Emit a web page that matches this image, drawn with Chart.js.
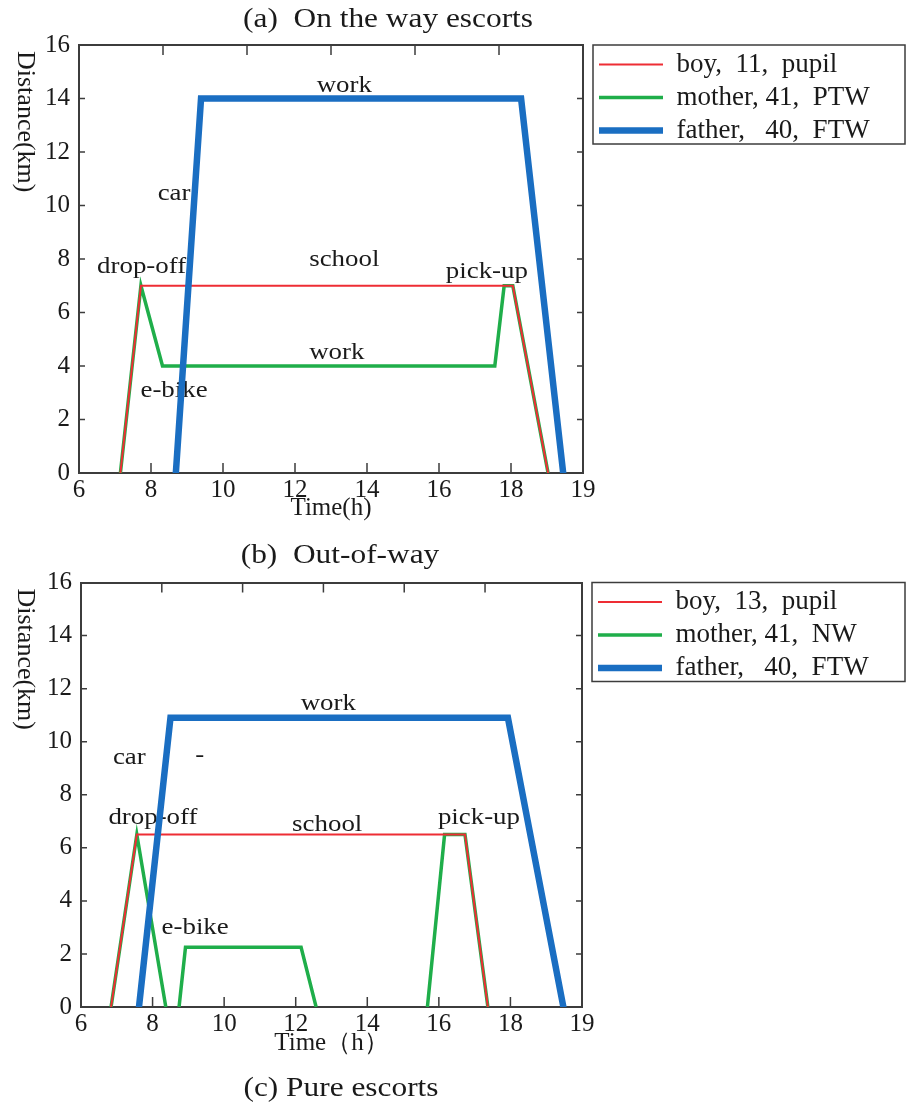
<!DOCTYPE html>
<html>
<head>
<meta charset="utf-8">
<script src="https://cdn.jsdelivr.net/npm/chart.js@4.4.1/dist/chart.umd.min.js"></script>
<style>
  body { margin: 0; background: #fff; }
  canvas { display: block; }
</style>
</head>
<body>
<canvas id="chartA" width="907" height="540"></canvas>
<canvas id="chartB" width="907" height="565"></canvas>
<script>
// x axis is drawn in seven equal steps; the last tick reads "19" as in the source figure
const xTickLabels = ["6", "8", "10", "12", "14", "16", "18", "19"];

// (a) On the way escorts
const titleA = "(a)  On the way escorts";
const legendA = ["boy,  11,  pupil", "mother, 41,  PTW", "father,   40,  FTW"];
const boyA_t = [7.15, 7.72, 18.05, 19.03];
const boyA_km = [0, 7, 7, 0];
const motherA_t = [7.15, 7.72, 8.32, 17.55, 17.81, 18.05, 19.03];
const motherA_km = [0, 7, 4, 4, 7, 7, 0];
const fatherA_t = [8.69, 9.39, 18.28, 19.45];
const fatherA_km = [0, 14, 14, 0];
const notesA = ["work", "car", "drop-off", "school", "pick-up", "work", "e-bike"];
const notesA_t = [13.37, 8.64, 7.74, 13.37, 17.33, 13.16, 8.64];
const notesA_km = [14.48, 10.44, 7.7, 7.99, 7.54, 4.48, 3.07];

// (b) Out-of-way  (null = gap in the trace)
const titleB = "(b)  Out-of-way";
const captionC = "(c) Pure escorts";
const legendB = ["boy,  13,  pupil", "mother, 41,  NW", "father,   40,  FTW"];
const boyB_t = [6.84, 7.56, 16.73, 17.37];
const boyB_km = [0, 6.5, 6.5, 0];
const motherB_t = [6.84, 7.56, 8.37, 8.55, 8.74, 8.92, 12.15, 12.57, 14.1, 15.68, 16.16, 16.73, 17.37];
const motherB_km = [0, 6.5, 0, null, 0, 2.25, 2.25, 0, null, 0, 6.5, 6.5, 0];
const fatherB_t = [7.62, 8.5, 17.93, 19.48];
const fatherB_km = [0, 10.9, 10.9, 0];
const notesB = ["work", "car", "-", "drop-off", "school", "pick-up", "e-bike"];
const notesB_t = [12.91, 7.35, 9.32, 8.01, 12.88, 17.12, 9.19];
const notesB_km = [11.42, 9.39, 9.48, 7.12, 6.87, 7.12, 3.0];

const SERIF = '"Liberation Serif", "Times New Roman", serif';
const INK = "#1a1a1a";
const FRAME = "#3c3c3c";
const RED = "#ee2d34";
const GREEN = "#1fae4a";
const BLUE = "#1a6ec2";

Chart.defaults.font.family = SERIF;
Chart.defaults.color = INK;

const zip = (xs, ys) => xs.map((x, i) => ({ x, y: ys[i] }));

function stretchText(ctx, text, x, y, sx) {
  ctx.save();
  ctx.translate(x, y);
  ctx.scale(sx, 1);
  ctx.fillText(text, 0, 0);
  ctx.restore();
}

// annotations, inner tick marks, legend frame, rotated y title, captions
const decor = {
  id: "decor",
  beforeDatasetsDraw(chart, args, o) {
    const { ctx, scales: { x, y } } = chart;
    ctx.save();
    ctx.fillStyle = INK;
    ctx.font = `24px ${SERIF}`;
    ctx.textAlign = "center";
    ctx.textBaseline = "middle";
    o.notes.forEach((t, i) => {
      stretchText(ctx, t, x.getPixelForValue(o.notesT[i]), y.getPixelForValue(o.notesKm[i]), 1.12);
    });
    ctx.restore();
  },
  afterDraw(chart, args, o) {
    const { ctx, chartArea: a, scales } = chart;
    ctx.save();
    ctx.strokeStyle = FRAME;
    ctx.lineWidth = 1.5;
    ctx.beginPath();
    scales.x.ticks.forEach((t) => {
      if (t.value > 6 && t.value < 20) {
        const px = scales.x.getPixelForValue(t.value);
        ctx.moveTo(px, a.bottom);
        ctx.lineTo(px, a.bottom - 10);
      }
    });
    scales.xTop.ticks.forEach((t) => {
      if (t.value > 0 && t.value < 6 && Number.isInteger(t.value)) {
        const px = scales.xTop.getPixelForValue(t.value);
        ctx.moveTo(px, a.top);
        ctx.lineTo(px, a.top + 10);
      }
    });
    scales.y.ticks.forEach((t) => {
      if (t.value > 0 && t.value < 16) {
        const py = scales.y.getPixelForValue(t.value);
        ctx.moveTo(a.left, py);
        ctx.lineTo(a.left + 6, py);
        ctx.moveTo(a.right, py);
        ctx.lineTo(a.right - 6, py);
      }
    });
    ctx.stroke();

    const lg = chart.legend;
    const hb = lg.legendHitBoxes;
    const last = hb[hb.length - 1];
    ctx.strokeRect(lg.left, a.top, o.frameRight - lg.left, last.top + last.height - a.top);

    ctx.fillStyle = INK;
    ctx.save();
    ctx.font = `26px ${SERIF}`;
    ctx.translate(25, a.top + 6);
    ctx.rotate(Math.PI / 2);
    ctx.textAlign = "left";
    ctx.textBaseline = "middle";
    ctx.fillText("Distance(km)", 0, 0);
    ctx.restore();

    ctx.font = `28px ${SERIF}`;
    ctx.textAlign = "center";
    ctx.textBaseline = "middle";
    o.captions.forEach((c) => stretchText(ctx, c.text, c.x, c.y, 1.12));
    ctx.restore();
  },
};

function makeChart(id, p) {
  const border = { display: true, color: FRAME, width: 2 };
  const series = [
    { label: p.legend[0], data: zip(p.boyT, p.boyKm), borderColor: RED, borderWidth: 2, order: 1 },
    { label: p.legend[1], data: zip(p.motherT, p.motherKm), borderColor: GREEN, borderWidth: 3.5, order: 2 },
    { label: p.legend[2], data: zip(p.fatherT, p.fatherKm), borderColor: BLUE, borderWidth: 6.5, borderCapStyle: "round", order: 0 },
  ];
  series.forEach((s) => {
    s.backgroundColor = s.borderColor;
    s.pointRadius = 0;
    s.pointStyle = "line";
    s.tension = 0;
    s.spanGaps = false;
    s.fill = false;
  });

  return new Chart(document.getElementById(id), {
    type: "line",
    data: { datasets: series },
    options: {
      responsive: false,
      animation: false,
      events: [],
      layout: { padding: { top: p.areaTop, left: 0, right: p.padRight, bottom: p.padBottom } },
      plugins: {
        legend: {
          position: "right",
          align: "start",
          fullSize: false,
          maxWidth: 280,
          labels: {
            usePointStyle: true,
            pointStyleWidth: 64,
            padding: 6,
            color: INK,
            font: { family: SERIF, size: 27 },
            sort: (a, b) => a.datasetIndex - b.datasetIndex,
          },
        },
        tooltip: { enabled: false },
        decor: {
          notes: p.notes,
          notesT: p.notesT,
          notesKm: p.notesKm,
          captions: p.captions,
          frameRight: 905,
        },
      },
      scales: {
        x: {
          type: "linear",
          position: "bottom",
          min: 6,
          max: 20,
          afterFit: (s) => { s.height = p.xHeight; },
          ticks: {
            stepSize: 2,
            padding: 2,
            maxRotation: 0,
            autoSkip: false,
            color: INK,
            font: { size: 25 },
            callback: (v) => xTickLabels[Math.round((v - 6) / 2)],
          },
          grid: { display: false, drawTicks: false },
          border,
          title: {
            display: true,
            text: p.xTitle,
            color: INK,
            font: { size: 25 },
            padding: { top: 0, bottom: p.xTitlePad },
          },
        },
        xTop: {
          type: "linear",
          position: "top",
          min: 0,
          max: p.topMax,
          afterFit: (s) => { s.height = 0; },
          ticks: { display: false, stepSize: 1 },
          grid: { display: false, drawTicks: false },
          border,
        },
        y: {
          type: "linear",
          position: "left",
          min: 0,
          max: 16,
          afterFit: (s) => { s.width = p.yWidth; },
          ticks: { stepSize: 2, padding: 9, color: INK, font: { size: 25 } },
          grid: { display: false, drawTicks: false },
          border,
        },
        yRight: {
          type: "linear",
          position: "right",
          min: 0,
          max: 16,
          afterFit: (s) => { s.width = 10; },
          ticks: { display: false, stepSize: 2 },
          grid: { display: false, drawTicks: false },
          border,
        },
      },
    },
    plugins: [decor],
  });
}

makeChart("chartA", {
  legend: legendA,
  boyT: boyA_t, boyKm: boyA_km,
  motherT: motherA_t, motherKm: motherA_km,
  fatherT: fatherA_t, fatherKm: fatherA_km,
  notes: notesA, notesT: notesA_t, notesKm: notesA_km,
  captions: [{ text: titleA, x: 388, y: 20 }],
  xTitle: "Time(h)",
  areaTop: 45, padRight: 34, padBottom: 0,
  xHeight: 67, xTitlePad: 17, yWidth: 79, topMax: 6,
});

makeChart("chartB", {
  legend: legendB,
  boyT: boyB_t, boyKm: boyB_km,
  motherT: motherB_t, motherKm: motherB_km,
  fatherT: fatherB_t, fatherKm: fatherB_km,
  notes: notesB, notesT: notesB_t, notesKm: notesB_km,
  captions: [{ text: titleB, x: 340, y: 16 }, { text: captionC, x: 341, y: 549 }],
  xTitle: "Time（h）",
  areaTop: 42.5, padRight: 35, padBottom: 45,
  xHeight: 53, xTitlePad: 2, yWidth: 81, topMax: 6.2,
});
</script>
</body>
</html>
